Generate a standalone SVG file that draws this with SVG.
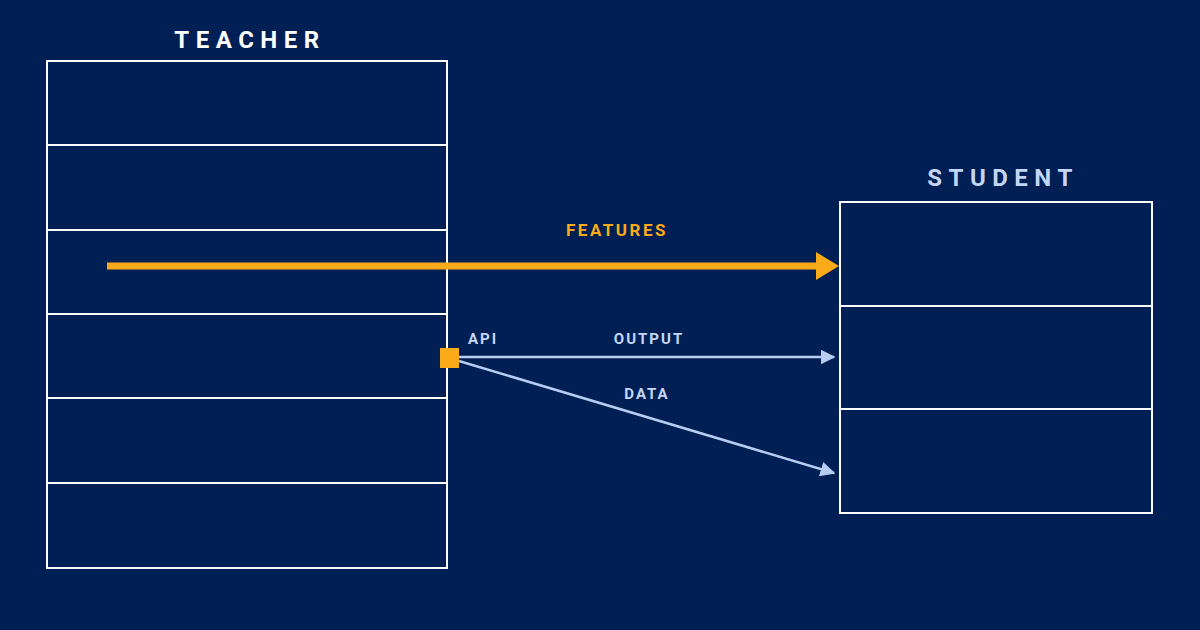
<svg xmlns="http://www.w3.org/2000/svg" width="1200" height="630" viewBox="0 0 1200 630">
<style>
.box{fill:none;stroke:#ffffff;stroke-width:2}
.t{font-family:Roboto,"Liberation Sans",sans-serif;font-weight:bold;text-anchor:middle}
.h{font-size:24px;letter-spacing:6.5px}
.l{font-size:15px;letter-spacing:2px;fill:#c5d6f5}
.ln{stroke:#b8cdf2;stroke-width:2.5;fill:none}
</style>
<defs>
<marker id="a" viewBox="0 0 10 10" refX="9" refY="5" markerWidth="6" markerHeight="6" orient="auto" markerUnits="strokeWidth"><path d="M0,0L10,5L0,10z" fill="#b8cdf2"/></marker>
</defs>
<rect width="1200" height="630" fill="#001f55"/>
<g id="teacher">
<text class="t h" x="250" y="48" fill="#ffffff">TEACHER</text>
<rect class="box" x="47" y="61" width="400" height="507"/>
<path class="box" d="M47,145H447M47,230H447M47,314H447M47,398H447M47,483H447"/>
</g>
<g id="student">
<text class="t h" x="1003" y="186" fill="#c5d6f5">STUDENT</text>
<rect class="box" x="840" y="202" width="312" height="311"/>
<path class="box" d="M840,306H1152M840,409H1152"/>
</g>
<g id="connectors">
<path d="M107,266H818" stroke="#fbaa19" stroke-width="7"/>
<path d="M816,252L839,266L816,280z" fill="#fbaa19"/>
<text class="t" x="617" y="236" font-size="17" letter-spacing="2.5" fill="#fbaa19">FEATURES</text>
<path class="ln" d="M459,357H834" marker-end="url(#a)"/>
<path class="ln" d="M459,361L834,473" marker-end="url(#a)"/>
<text class="t l" x="483" y="344">API</text>
<text class="t l" x="649" y="344">OUTPUT</text>
<text class="t l" x="647" y="399">DATA</text>
</g>
<g id="api"><rect x="440" y="348" width="19" height="20" fill="#fbaa19"/></g>
</svg>
